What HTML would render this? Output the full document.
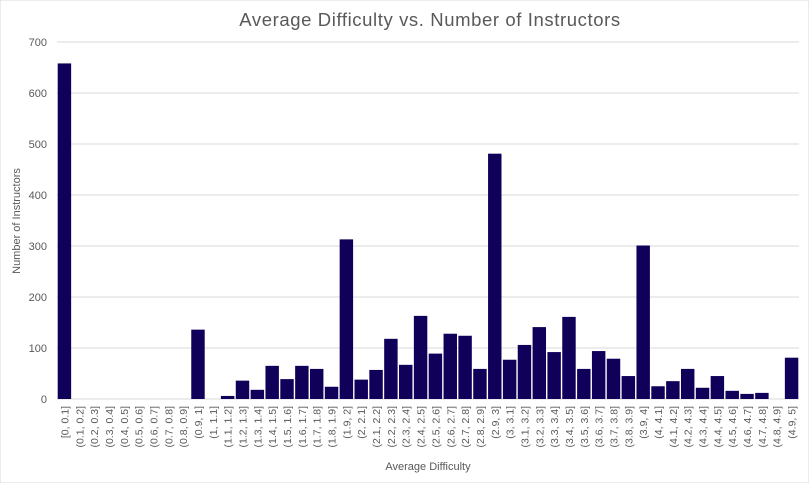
<!DOCTYPE html>
<html><head><meta charset="utf-8"><style>
body{margin:0;background:#fff;font-family:"Liberation Sans",sans-serif}
</style></head><body>
<svg id="c" width="809" height="483" xmlns="http://www.w3.org/2000/svg" style="display:block;font-family:'Liberation Sans',sans-serif">
<rect width="809" height="483" fill="#fff" stroke="#d9d9d9"/>
<text x="430" y="26" text-anchor="middle" font-size="18.5" letter-spacing="0.6" fill="#595959">Average Difficulty vs. Number of Instructors</text>
<text transform="translate(20,221) rotate(-90)" text-anchor="middle" font-size="11" fill="#595959">Number of Instructors</text>
<text x="428" y="470" text-anchor="middle" font-size="11" fill="#595959">Average Difficulty</text>
<g id="grid"></g><g id="bars"></g><g id="ylab"></g><g id="xlab"></g>
</svg>
<script>
const categories = ["[0, 0.1]","(0.1, 0.2]","(0.2, 0.3]","(0.3, 0.4]","(0.4, 0.5]","(0.5, 0.6]","(0.6, 0.7]","(0.7, 0.8]","(0.8, 0.9]","(0.9, 1]","(1, 1.1]","(1.1, 1.2]","(1.2, 1.3]","(1.3, 1.4]","(1.4, 1.5]","(1.5, 1.6]","(1.6, 1.7]","(1.7, 1.8]","(1.8, 1.9]","(1.9, 2]","(2, 2.1]","(2.1, 2.2]","(2.2, 2.3]","(2.3, 2.4]","(2.4, 2.5]","(2.5, 2.6]","(2.6, 2.7]","(2.7, 2.8]","(2.8, 2.9]","(2.9, 3]","(3, 3.1]","(3.1, 3.2]","(3.2, 3.3]","(3.3, 3.4]","(3.4, 3.5]","(3.5, 3.6]","(3.6, 3.7]","(3.7, 3.8]","(3.8, 3.9]","(3.9, 4]","(4, 4.1]","(4.1, 4.2]","(4.2, 4.3]","(4.3, 4.4]","(4.4, 4.5]","(4.5, 4.6]","(4.6, 4.7]","(4.7, 4.8]","(4.8, 4.9]","(4.9, 5]"];
const counts = [658,0,0,0,0,0,0,0,0,136,0,6,36,18,65,39,65,59,24,313,38,57,118,67,163,89,128,124,59,481,77,106,141,92,161,59,94,79,45,301,25,35,59,22,45,16,10,12,0,81];
const yTicks = [0,100,200,300,400,500,600,700];
const NS="http://www.w3.org/2000/svg";
const x0=57,x1=799,y0=399,yTop=42,yMax=700;
const band=(x1-x0)/categories.length;
const y=v=>y0-(v/yMax)*(y0-yTop);
function mk(t,a,p){const e=document.createElementNS(NS,t);for(const k in a)e.setAttribute(k,a[k]);p.appendChild(e);return e;}
const G=document.getElementById('grid'),B=document.getElementById('bars'),YL=document.getElementById('ylab'),XL=document.getElementById('xlab');
yTicks.forEach(t=>{
  const l=mk('line',{x1:x0,x2:x1,y1:y(t),y2:y(t),stroke:'#d9d9d9','stroke-width':1},G);
  
  
  const tx=mk('text',{x:47,y:y(t)+4,'text-anchor':'end','font-size':11,fill:'#595959'},YL);
  tx.textContent=t;
  
  
});
categories.forEach((c,i)=>{
  const v=counts[i];
  const r=mk('rect',{x:x0+i*band+0.7,y:y(v),width:band-1.4,height:y0-y(v),fill:'#10005a'},B);
  
  
  const cx=x0+i*band+band/2+4;
  const tx=mk('text',{transform:`translate(${cx},406) rotate(-90)`,'text-anchor':'end','font-size':10.5,fill:'#595959'},XL);
  tx.textContent=c;
  
  
});
</script>
</body></html>
